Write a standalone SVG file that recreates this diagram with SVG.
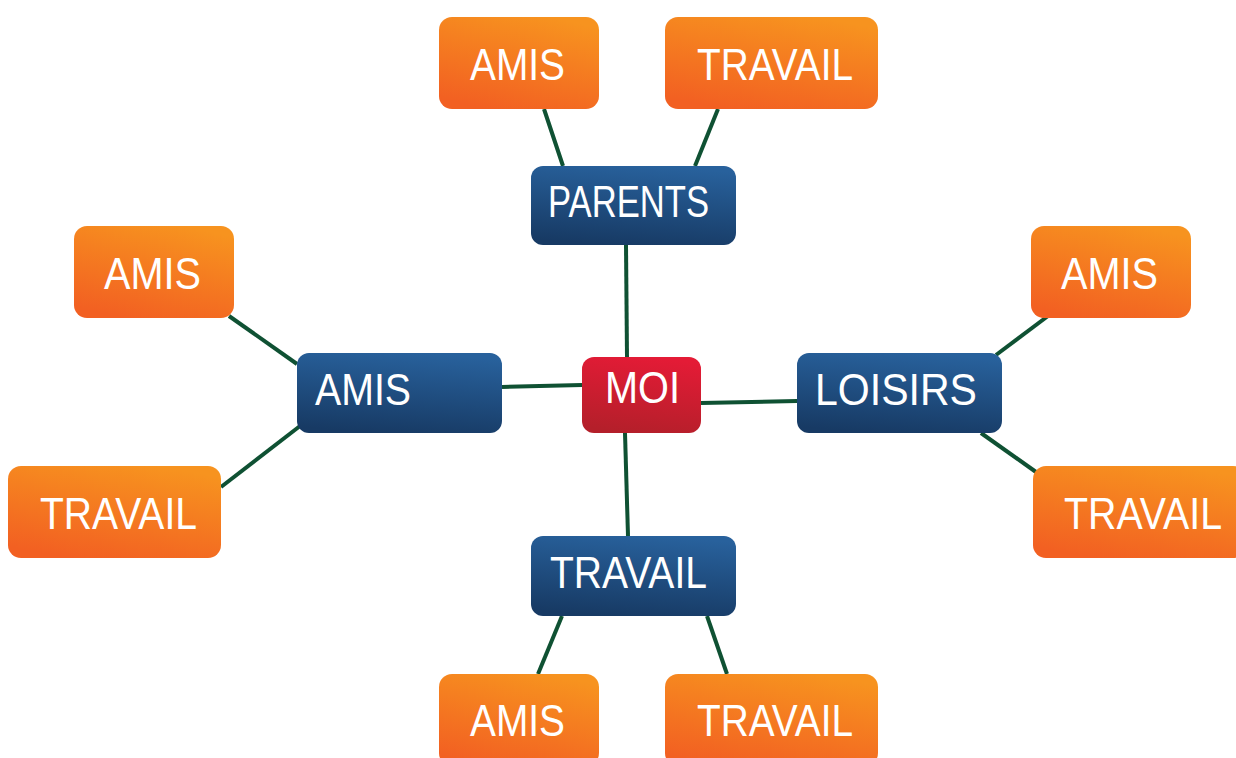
<svg xmlns="http://www.w3.org/2000/svg" width="1236" height="758" viewBox="0 0 1236 758">
<defs>
<linearGradient id="gO" x1="0.3" y1="1" x2="0.7" y2="0"><stop offset="0" stop-color="#f26022"/><stop offset="1" stop-color="#f7931f"/></linearGradient>
<linearGradient id="gB" x1="0.4" y1="1" x2="0.6" y2="0"><stop offset="0" stop-color="#173a64"/><stop offset="1" stop-color="#28619c"/></linearGradient>
<linearGradient id="gR" x1="0.4" y1="1" x2="0.6" y2="0"><stop offset="0" stop-color="#b41f2a"/><stop offset="1" stop-color="#e41b36"/></linearGradient>
</defs>
<style>
.o{fill:url(#gO)}
.b{fill:url(#gB)}
.r{fill:url(#gR)}
text{font-family:"Liberation Sans",Arial,sans-serif;font-size:44px;fill:#fff}
.e line{stroke:#0f5133;stroke-width:4;stroke-linecap:butt}
</style>
<rect width="1236" height="758" fill="#fff"/>
<g class="e" id="connectors">
<line x1="627" y1="357" x2="626" y2="245"/>
<line x1="582" y1="385" x2="502" y2="387"/>
<line x1="701" y1="403" x2="797" y2="401"/>
<line x1="625" y1="433" x2="628" y2="536"/>
<line x1="563" y1="166" x2="544" y2="109"/>
<line x1="695" y1="166" x2="718" y2="109"/>
<line x1="297" y1="364" x2="229" y2="316"/>
<line x1="300" y1="426" x2="221" y2="487"/>
<line x1="996" y1="355" x2="1048" y2="316"/>
<line x1="981" y1="433" x2="1036" y2="472"/>
<line x1="562" y1="616" x2="538" y2="674"/>
<line x1="707" y1="616" x2="727" y2="674"/>
</g>
<g id="moi"><rect class="r" x="582" y="357" width="119" height="76" rx="12"/><text x="605" y="403" textLength="75" lengthAdjust="spacingAndGlyphs">MOI</text></g>
<g id="parents"><rect class="b" x="531" y="166" width="205" height="79" rx="12"/><text x="548" y="217" textLength="161" lengthAdjust="spacingAndGlyphs">PARENTS</text></g>
<g id="amis-b"><rect class="b" x="297" y="353" width="205" height="80" rx="12"/><text x="315" y="405" textLength="96" lengthAdjust="spacingAndGlyphs">AMIS</text></g>
<g id="loisirs"><rect class="b" x="797" y="353" width="205" height="80" rx="12"/><text x="815" y="405" textLength="162" lengthAdjust="spacingAndGlyphs">LOISIRS</text></g>
<g id="travail-b"><rect class="b" x="531" y="536" width="205" height="80" rx="12"/><text x="550" y="588" textLength="157" lengthAdjust="spacingAndGlyphs">TRAVAIL</text></g>
<g id="amis-top"><rect class="o" x="439" y="17" width="160" height="92" rx="13"/><text x="470" y="80" textLength="95" lengthAdjust="spacingAndGlyphs">AMIS</text></g>
<g id="travail-top"><rect class="o" x="665" y="17" width="213" height="92" rx="13"/><text x="697" y="80" textLength="156" lengthAdjust="spacingAndGlyphs">TRAVAIL</text></g>
<g id="amis-left"><rect class="o" x="74" y="226" width="160" height="92" rx="13"/><text x="104" y="289" textLength="97" lengthAdjust="spacingAndGlyphs">AMIS</text></g>
<g id="travail-left"><rect class="o" x="8" y="466" width="213" height="92" rx="13"/><text x="40" y="529" textLength="157" lengthAdjust="spacingAndGlyphs">TRAVAIL</text></g>
<g id="amis-right"><rect class="o" x="1031" y="226" width="160" height="92" rx="13"/><text x="1061" y="289" textLength="97" lengthAdjust="spacingAndGlyphs">AMIS</text></g>
<g id="travail-right"><rect class="o" x="1033" y="466" width="213" height="92" rx="13"/><text x="1064" y="529" textLength="158" lengthAdjust="spacingAndGlyphs">TRAVAIL</text></g>
<g id="amis-bottom"><rect class="o" x="439" y="674" width="160" height="92" rx="13"/><text x="470" y="736" textLength="95" lengthAdjust="spacingAndGlyphs">AMIS</text></g>
<g id="travail-bottom"><rect class="o" x="665" y="674" width="213" height="92" rx="13"/><text x="697" y="736" textLength="156" lengthAdjust="spacingAndGlyphs">TRAVAIL</text></g>
</svg>
